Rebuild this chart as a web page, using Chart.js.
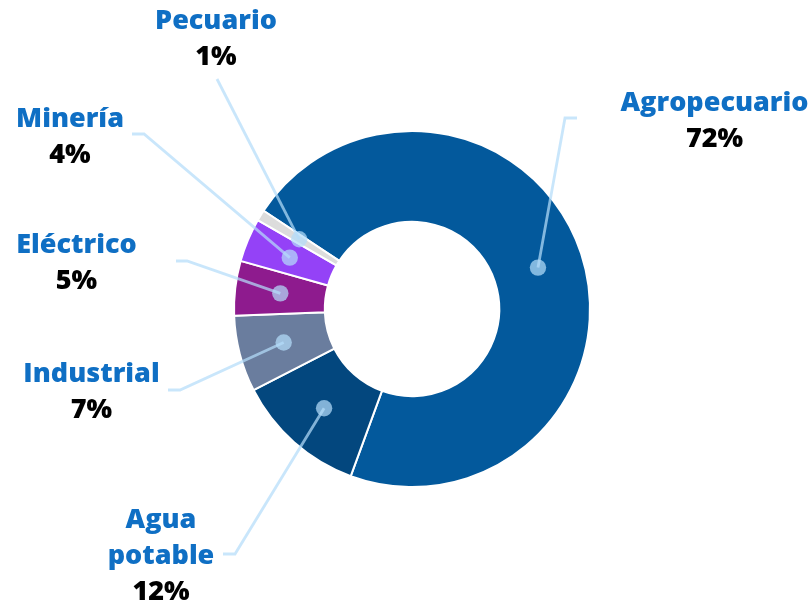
<!DOCTYPE html>
<html lang="es">
<head>
<meta charset="utf-8">
<title>Uso del agua por sector</title>
<script src="https://cdn.jsdelivr.net/npm/chart.js@4.4.1/dist/chart.umd.min.js"></script>
<style>
  html, body { margin: 0; padding: 0; background: #ffffff; }
  #wrap { width: 810px; height: 605px; position: relative; }
</style>
</head>
<body>
<div id="wrap"><canvas id="chart" width="810" height="605"></canvas></div>
<script>
// Sectors and their share of the total (percent)
const categories = ['Agropecuario', 'Agua potable', 'Industrial', 'Eléctrico', 'Minería', 'Pecuario'];
const shares = [72, 12, 7, 5, 4, 1];
const nameLines = [['Agropecuario'], ['Agua', 'potable'], ['Industrial'], ['Eléctrico'], ['Minería'], ['Pecuario']];
const percentLabels = shares.map(v => v + '%');
const sliceColors = ['#03599c', '#03477e', '#6a7d9e', '#8e1b8e', '#9442f7', '#dcdcdc'];

// Callout layout: leader elbow, optional horizontal tail end, and label anchor (centre x, first baseline y)
const callouts = [
  { elbow: [565, 118], tail: [577, 118], text: [714.5, 110.7] },
  { elbow: [235, 554], tail: [223, 554], text: [161, 528] },
  { elbow: [180, 390], tail: [168, 390], text: [91.5, 381.7] },
  { elbow: [187, 261], tail: [176, 261], text: [76.5, 253] },
  { elbow: [144, 134], tail: [132, 134], text: [70, 126.7] },
  { elbow: [217, 79], tail: null, text: [216, 29] }
];

const calloutPlugin = {
  id: 'callouts',
  afterDatasetsDraw(chart) {
    const ctx = chart.ctx;
    const arcs = chart.getDatasetMeta(0).data;
    ctx.save();
    arcs.forEach((arc, i) => {
      const p = arc.getProps(['x', 'y', 'startAngle', 'endAngle', 'innerRadius', 'outerRadius'], true);
      const mid = (p.startAngle + p.endAngle) / 2;
      const r = (p.innerRadius + p.outerRadius) / 2;
      const dx = p.x + Math.cos(mid) * r;
      const dy = p.y + Math.sin(mid) * r;
      const c = callouts[i];
      ctx.strokeStyle = 'rgba(180, 220, 250, 0.72)';
      ctx.fillStyle = 'rgba(180, 220, 250, 0.72)';
      ctx.lineWidth = 2.8;
      ctx.lineJoin = 'miter';
      ctx.beginPath();
      ctx.moveTo(dx, dy);
      ctx.lineTo(c.elbow[0], c.elbow[1]);
      if (c.tail) ctx.lineTo(c.tail[0], c.tail[1]);
      ctx.stroke();
      ctx.beginPath();
      ctx.arc(dx, dy, 8.2, 0, Math.PI * 2);
      ctx.fill();
    });
    // Sector names in blue, shares in black
    const lineGap = 35.8;
    ctx.textAlign = 'center';
    ctx.textBaseline = 'alphabetic';
    ctx.font = '800 27px "Open Sans", "DejaVu Sans", sans-serif';
    arcs.forEach((arc, i) => {
      const c = callouts[i];
      let y = c.text[1];
      ctx.fillStyle = '#0f6fc4';
      nameLines[i].forEach(line => {
        ctx.fillText(line, c.text[0], y);
        y += lineGap;
      });
      ctx.fillStyle = '#000000';
      ctx.fillText(percentLabels[i], c.text[0], y);
    });
    ctx.restore();
  }
};

new Chart(document.getElementById('chart'), {
  type: 'doughnut',
  data: {
    labels: categories,
    datasets: [{
      data: shares,
      backgroundColor: sliceColors,
      borderColor: '#ffffff',
      borderWidth: 2
    }]
  },
  options: {
    responsive: false,
    animation: false,
    events: [],
    cutout: '49%',
    rotation: -56.5,
    layout: { padding: { left: 233, right: 219, top: 130, bottom: 117 } },
    plugins: {
      legend: { display: false },
      tooltip: { enabled: false }
    }
  },
  plugins: [calloutPlugin]
});
</script>
</body>
</html>
